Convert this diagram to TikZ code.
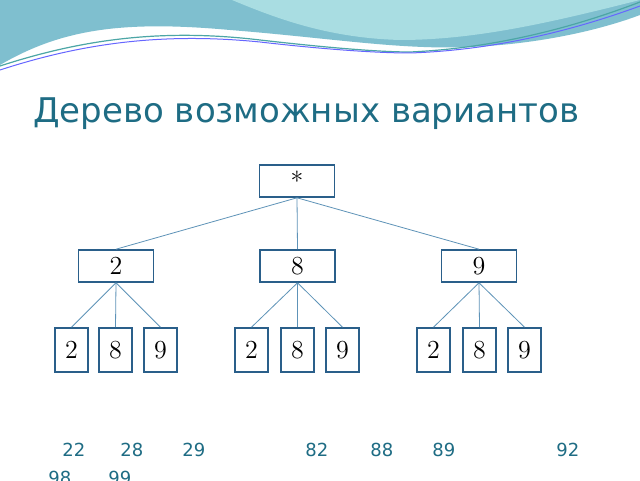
\documentclass[tikz,border=0pt]{standalone}
\usepackage{fontspec}
\setsansfont{DejaVu Sans}
\begin{document}
\begin{tikzpicture}[x=0.5pt,y=-0.5pt,
  box/.style={draw=boxc,line width=0.8pt,fill=white,inner sep=0pt,font=\fontsize{13}{15}\selectfont},
  lf/.style={box,minimum width=16.5pt,minimum height=22pt},
  md/.style={box,minimum width=37.5pt,minimum height=16pt},
  ln/.style={draw=linec,line width=0.4pt},
  num/.style={text=titc,font=\sffamily\fontsize{9}{10}\selectfont,anchor=base west}]
\definecolor{boxc}{HTML}{2A5F8A}
\definecolor{linec}{HTML}{5E93B8}
\definecolor{titc}{HTML}{1E6C84}
\definecolor{w1}{HTML}{7FBFCF}
\definecolor{w2}{HTML}{A9DDE2}
\useasboundingbox (0,0) rectangle (640,480);
\fill[white] (0,0) rectangle (640,480);
% top waves
\fill[w1] (0,0) -- (0,65) .. controls (60,30) and (120,20) .. (230,30) .. controls (330,38) and (400,50) .. (470,47) .. controls (540,44) and (600,30) .. (640,15) -- (640,0) -- cycle;
\fill[w2] (232,0) .. controls (280,20) and (330,38) .. (400,40) .. controls (480,40) and (560,20) .. (640,0) -- cycle;
\fill[white] (0,68) .. controls (60,40) and (120,32) .. (200,36) .. controls (300,42) and (360,55) .. (420,53) .. controls (520,50) and (600,35) .. (640,22) -- (640,30) .. controls (560,60) and (480,62) .. (400,55) .. controls (300,48) and (150,20) .. (0,75) -- cycle;
\draw[teal!70,line width=0.6pt] (0,66) .. controls (80,40) and (160,28) .. (260,40) .. controls (330,48) and (380,52) .. (410,52) .. controls (500,48) and (580,25) .. (640,2);
\draw[blue!60,line width=0.5pt] (0,70) .. controls (80,44) and (160,32) .. (260,42) .. controls (330,50) and (380,53) .. (410,53) .. controls (500,50) and (580,28) .. (640,6);
% title
\node[anchor=base west,text=titc,font=\sffamily\fontsize{17}{20}\selectfont,inner sep=0pt] (t) at (33,123) {Дерево возможных вариантов};
% tree
\node[md] (r) at (297,181) {*};
\node[md] (a) at (116,266) {2};
\node[md] (b) at (297.5,266) {8};
\node[md] (c) at (479,266) {9};
\foreach \n/\x/\l in {a1/71.5/2,a2/115.5/8,a3/160.5/9,b1/251.5/2,b2/297.5/8,b3/342.5/9,c1/433.5/2,c2/479.5/8,c3/524.5/9}
  \node[lf] (\n) at (\x,350) {\l};
\foreach \p in {a,b,c} \draw[ln] (r.south) -- (\p.north);
\foreach \p in {a,b,c} \foreach \i in {1,2,3} \draw[ln] (\p.south) -- (\p\i.north);
% numbers
\foreach \s/\x/\y in {22/62/456,28/120/456,29/182/456,82/305/456,88/370/456,89/432/456,92/556/456,98/48/484,99/108/484}
  \node[num,inner sep=0pt] (n\s) at (\x,\y) {\s};
\end{tikzpicture}
\end{document}
